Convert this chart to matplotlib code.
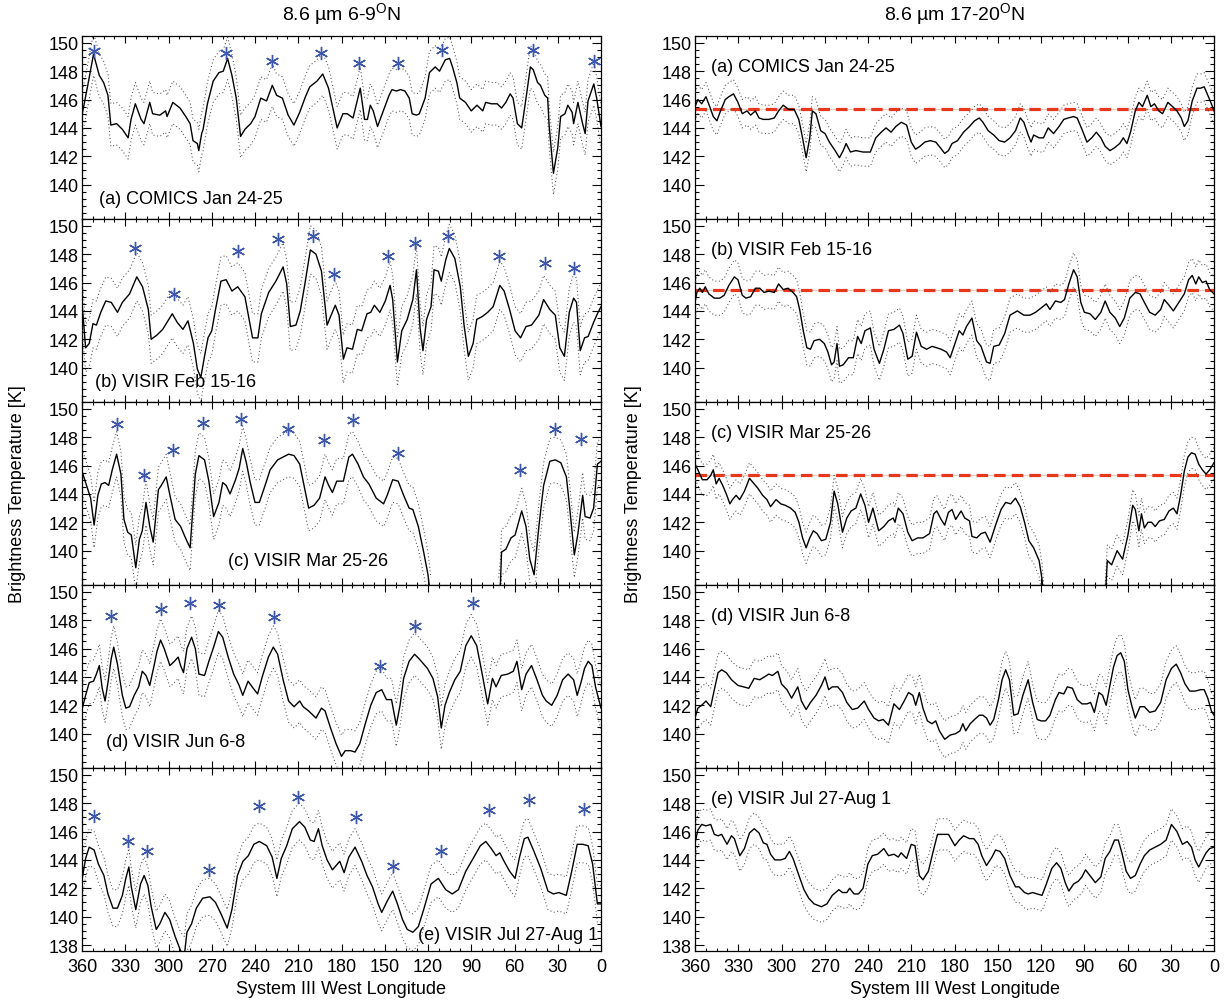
import numpy as np
import matplotlib
matplotlib.use('Agg')
import matplotlib.pyplot as plt
from matplotlib.ticker import MultipleLocator, FixedLocator

plt.rcParams['font.family'] = ['Liberation Sans', 'DejaVu Sans']
plt.rcParams['mathtext.fontset'] = 'custom'
plt.rcParams['mathtext.rm'] = 'Liberation Sans'

nan = np.nan

# ---------------- data: (System III longitude, brightness temperature K) ----------------
left_a = [(360,144.9),(356,147.0),(352,149.2),(348,147.7),(345,147.2),(342,146.3),(340,144.2),(336,144.3),(332,143.9),(328,143.3),(326,144.6),(323,145.7),(319,144.6),(317,144.3),(313,145.8),(311,145.0),(306,144.9),(302,145.2),(301,144.8),(297,145.8),(292,145.4),(288,144.8),(285,144.3),(283,143.1),(280,142.9),(279,142.4),(277,143.6),(276,143.9),(273,145.7),(269,147.3),(265,147.9),(262,148.0),(259,148.9),(256,147.7),(253,146.1),(250,143.4),(247,143.9),(243,144.3),(240,144.8),(236,146.1),(232,145.9),(228,147.0),(225,146.3),(221,146.1),(217,144.9),(213,144.2),(209,145.1),(205,146.2),(202,146.9),(197,147.3),(193,147.8),(189,146.8),(186,145.4),(183,144.0),(179,145.0),(176,145.0),(172,144.7),(167,146.8),(164,144.6),(162,144.6),(160,145.6),(158,145.2),(155,144.1),(151,145.2),(147,146.3),(145,146.7),(142,146.6),(139,146.7),(136,146.6),(133,146.1),(131,145.0),(128,144.9),(126,145.0),(122,146.1),(119,147.9),(115,148.3),(112,148.0),(108,148.8),(105,148.9),(103,148.3),(100,147.2),(98,146.1),(94,145.8),(90,145.2),(86,145.6),(82,145.2),(80,145.8),(76,145.7),(72,145.7),(69,145.4),(66,145.8),(63,146.4),(61,146.1),(58,144.3),(55,144.0),(52,146.1),(49,148.3),(47,148.1),(44,147.2),(42,147.0),(39,146.3),(37,146.1),(36,144.2),(33,140.8),(30,142.6),(28,144.8),(25,145.0),(23,145.6),(20,145.1),(19,144.3),(16,145.8),(13,144.4),(11,143.6),(9,145.9),(5,147.1),(3,146.1),(0,144.1)]

left_b = [(360,144.6),(357.5,141.4),(355,141.7),(352.4,143.1),(350,143.0),(347,143.9),(343.5,144.7),(339.7,144.6),(335.4,143.9),(332,144.6),(327,145.2),(322,146.4),(318,145.7),(314,144.1),(312,142.0),(308,142.3),(304,142.7),(300.4,143.3),(297.4,143.8),(294,143.2),(290,142.7),(286.5,143.3),(282.7,141.7),(280,139.9),(277.6,139.3),(275,140.8),(272.6,142.1),(270,142.6),(267.4,144.1),(263.6,146.1),(260,146.2),(256,145.4),(252,145.7),(247,145.0),(241.7,142.1),(238,142.1),(235.6,143.8),(230.5,145.3),(225.5,146.1),(220.5,147.1),(218,145.9),(215.5,142.9),(211.6,143.0),(208.6,144.0),(205.4,145.9),(201.6,148.3),(197.7,148.0),(193.9,146.8),(190,143.0),(187.6,143.6),(184.3,144.4),(181.7,143.7),(178.7,140.6),(176.2,141.4),(172.4,141.3),(169,142.7),(166,142.6),(162.3,143.8),(159.7,143.9),(157.2,144.4),(153.4,143.9),(149.6,144.7),(146.3,145.8),(144.5,144.8),(141.2,140.4),(138.2,142.6),(134.4,143.4),(130.5,144.8),(128,146.9),(125.5,142.8),(123.5,141.2),(121,143.4),(117.9,144.3),(115.8,146.9),(112.8,146.8),(110.8,146.1),(107.7,147.6),(105.2,148.4),(101.4,147.7),(97.6,145.7),(95,143.0),(92,140.8),(88.7,141.7),(86.2,143.4),(82.4,143.6),(78.6,143.9),(74.8,144.3),(70.2,145.8),(67.2,145.4),(63.4,144.1),(59.6,142.6),(55.8,142.1),(52,142.9),(48.2,143.0),(43.1,143.7),(39.8,144.8),(35.5,144.1),(31.7,143.7),(28.6,141.4),(25.4,140.8),(22,143.9),(19,144.9),(17,144.6),(14.4,141.2),(11.4,142.1),(8.9,142.2),(5.1,143.2),(2.5,143.8),(0,144.3)]

left_c = [(360,145.6),(357.5,144.8),(354,143.7),(351.6,141.8),(349,143.9),(346.6,144.7),(344,144.8),(341.5,144.6),(339,145.7),(336,146.8),(333,145.4),(330.9,142.2),(328.3,141.3),(325.8,141.1),(322.7,138.8),(320.2,140.8),(318.2,141.4),(315.6,143.4),(313,141.7),(310.6,140.6),(307,144.3),(305,144.6),(301.6,145.2),(299,143.9),(295.4,142.2),(291.6,141.7),(287.8,140.8),(285,140.2),(281.4,145.4),(278.9,146.7),(275,146.4),(272,144.9),(268.7,142.4),(265,143.4),(262.4,144.8),(260,144.6),(257.3,144.0),(253.5,145.0),(251,145.8),(248.5,147.2),(246,146.2),(243.3,144.8),(240,143.4),(237,143.4),(233,144.6),(229.5,145.7),(224.3,146.4),(216.7,146.8),(212.9,146.7),(209,146.1),(205.4,144.3),(202.8,143.0),(199,143.2),(195.2,143.7),(191.4,145.2),(188.9,144.6),(186.3,144.1),(183.3,144.9),(178.7,144.9),(174.9,146.6),(172.4,146.8),(168.5,146.1),(164.8,145.2),(161,144.7),(155.9,143.7),(150.8,143.3),(148.3,143.9),(144.5,145.0),(140.7,144.9),(136.9,143.9),(133.1,143.0),(130.5,142.9),(126.7,141.7),(123,139.9),(120,138.3),(118,136.5),(100,nan),(71,136.5),(69.7,137.8),(69,139.9),(66,140.1),(62.4,140.9),(59.6,141.1),(55,142.8),(52,141.7),(49.4,139.4),(46.4,138.3),(43.1,141.7),(39.8,144.6),(35.5,146.3),(31.7,146.4),(27.9,146.2),(24,145.2),(21.5,142.8),(18.5,139.7),(16,141.2),(12.7,143.9),(11,142.4),(7.6,142.3),(5.1,143.0),(2.5,146.1),(0,146.3)]

left_d = [(360,141.7),(357.5,142.7),(355,143.6),(352,143.7),(350,144.2),(348,144.8),(346,143.2),(344,142.3),(342,143.6),(339.7,145.3),(338,146.1),(335.4,144.9),(332,142.7),(329.6,141.8),(327,141.9),(323.8,142.7),(320.7,143.3),(318.2,144.4),(315.6,144.1),(313,143.4),(310,144.8),(308,145.8),(305.5,146.6),(303,146.0),(299,144.8),(295.9,145.1),(293.3,145.4),(291.6,144.8),(289.6,144.3),(287.2,146.0),(284,146.8),(281.4,146.0),(278.9,144.2),(275,144.1),(272,145.1),(268.7,146.1),(265.4,147.2),(262.4,146.8),(258.6,145.4),(254.8,144.2),(251,143.4),(248.5,142.7),(244.8,143.7),(242,143.3),(238.2,142.8),(235,144.0),(230.7,145.4),(227.3,146.1),(224.3,145.6),(220.5,143.8),(216.7,142.3),(212.9,141.9),(209,142.3),(206.6,141.9),(202.8,141.6),(197.7,141.1),(193.9,141.8),(191.4,141.6),(187.6,140.4),(183.8,139.3),(180,138.4),(177.4,138.8),(173.6,138.8),(170.6,138.7),(167.3,139.3),(163.5,140.7),(159.7,142.0),(155.9,142.9),(152.1,143.1),(148.8,142.4),(145.3,142.4),(142,140.6),(139.4,142.0),(136.9,143.9),(133.1,145.1),(129.3,145.6),(125.5,145.2),(120.4,144.6),(116.6,143.9),(113.3,142.6),(110.8,140.4),(108.2,142.0),(105.2,142.9),(101.4,143.8),(97.6,144.4),(93.8,146.2),(90,146.9),(86.2,146.2),(82.4,144.2),(78.6,142.1),(75.3,143.9),(72.8,143.3),(69.2,144.1),(64.6,144.2),(60.8,144.4),(58.3,145.1),(55,143.1),(52,144.2),(48.2,144.8),(44.4,143.8),(40.6,142.7),(38,142.3),(34.2,142.0),(30.4,142.7),(26.6,143.8),(22.8,144.2),(19,143.8),(16.5,142.7),(13.9,143.6),(11.4,144.6),(8.9,145.1),(6.3,144.8),(3.8,143.3),(0,141.8)]

left_e = [(360,142.6),(357.5,144.1),(355,144.9),(351.6,144.7),(348.6,143.7),(344.8,142.9),(342,141.6),(338.5,140.6),(335.4,140.6),(332,141.5),(329.6,142.7),(327.5,143.5),(325.8,142.1),(322.7,140.5),(319.4,142.3),(316.9,142.9),(314.3,142.2),(312,140.7),(308.5,139.1),(306,139.5),(302.5,140.3),(299.2,139.8),(295.4,138.6),(291.6,137.6),(289,137.3),(287.2,138.9),(284,139.5),(280.7,140.6),(276.3,141.3),(271.3,141.4),(267.4,141.0),(263.6,140.2),(259.3,139.2),(256,140.5),(252.2,142.9),(248.4,143.9),(244.6,144.3),(240.8,145.1),(237,145.3),(231.9,145.0),(228.1,144.2),(224.8,142.7),(221.8,144.1),(218,145.0),(214.1,146.2),(209.1,146.7),(205.4,146.3),(201.6,145.4),(199,145.3),(196,146.2),(193.4,145.0),(190,144.0),(186.3,143.3),(181.2,143.9),(178.2,143.1),(174.9,144.2),(170.6,144.9),(166,143.9),(162.3,142.9),(158.5,142.1),(154.6,140.9),(152.1,140.3),(148.3,141.1),(144.5,141.8),(141.2,140.9),(137.7,139.8),(134.4,139.1),(130.5,138.9),(126.7,139.3),(123,140.5),(117.9,142.3),(112.8,142.7),(107.7,141.9),(103.2,141.6),(98.9,141.9),(93.8,143.2),(88.7,144.1),(83.7,145.0),(79.9,145.3),(76.1,144.8),(72.8,144.3),(70.2,144.5),(67.2,143.9),(63.4,143.2),(59.6,142.7),(56.5,144.2),(53.2,145.5),(50.7,145.6),(46.9,144.7),(41.8,143.4),(36.8,141.8),(33,141.6),(29.2,141.7),(24.1,141.5),(20.3,143.2),(16.5,145.1),(12.7,145.1),(8.9,145.0),(5.8,143.7),(2.5,140.9),(0,140.9)]

right_a = [(360,145.5),(358,146.0),(355.4,145.7),(352.4,146.2),(349.8,145.5),(347.3,144.8),(344.8,144.5),(342.3,145.2),(339,146.0),(336.5,146.2),(333.3,146.4),(330.2,145.8),(327.2,145.0),(323.9,145.2),(321.4,144.9),(318.1,145.2),(315.6,144.7),(312.6,144.6),(308.8,144.6),(305,144.7),(302,145.2),(298.8,145.6),(295,145.3),(291.2,145.3),(288,144.6),(285.4,143.3),(282.9,141.9),(280.4,143.3),(278.6,145.2),(276.1,145.0),(272.8,143.8),(269.8,143.6),(266.8,143.0),(262.8,142.4),(259.8,141.9),(257.2,142.4),(255.2,142.9),(252.2,142.3),(248.4,142.4),(243.4,142.3),(238.4,142.3),(234.6,143.3),(230.8,143.7),(227.5,144.0),(224,143.7),(220.7,144.1),(216.9,144.4),(213.2,144.2),(210,143.0),(207,142.5),(204,142.7),(200.6,143.0),(196.8,143.1),(193,143.0),(189.8,142.6),(186.8,142.2),(184.2,142.4),(181.7,142.9),(177.9,143.1),(173.7,143.7),(169.6,144.1),(166.1,144.5),(162.8,144.7),(160.3,144.4),(156.6,143.8),(152.8,143.5),(149,143.1),(145.2,143.0),(141.5,143.3),(137.7,143.8),(134.4,144.7),(131.9,144.4),(128.9,143.5),(126.9,143.0),(125.1,143.5),(121.3,143.3),(118.3,143.3),(115,144.0),(111.3,143.6),(107.5,144.1),(104.2,144.6),(101.2,144.7),(97.4,144.8),(94.9,144.7),(91.6,143.9),(88.1,143.0),(84.8,143.3),(81.6,143.7),(78.5,143.3),(75.5,142.7),(72.2,142.4),(69,142.6),(65.4,142.9),(62.9,143.3),(60.4,142.9),(57.9,143.7),(54.6,145.2),(52.1,145.8),(49.6,145.5),(46.3,146.3),(43.8,145.5),(41.3,145.7),(38.3,145.2),(35.7,145.0),(32,145.8),(28.7,145.5),(25.7,145.2),(22.7,144.7),(20.6,144.1),(18.1,144.5),(15.1,145.9),(11.8,146.8),(9.3,146.8),(6.8,146.9),(4.3,146.3),(1.8,145.7),(0,145.2)]

right_b = [(360,144.6),(358.7,145.3),(356.7,145.6),(354.9,145.3),(352.9,145.7),(350.4,145.2),(346.6,144.9),(342.8,144.9),(339.8,145.1),(336.5,145.8),(332.7,146.4),(330.2,146.2),(327.2,145.1),(324.7,144.9),(321.4,145.0),(318.1,145.6),(315.1,145.6),(312.1,145.3),(308.8,145.4),(305,145.3),(302,145.9),(298.8,145.5),(295.5,145.6),(292,145.3),(289.5,145.0),(287.4,144.1),(284.9,142.6),(282.4,141.4),(279.9,141.3),(277.4,141.9),(273.6,142.0),(270.3,141.7),(267.8,141.1),(265.3,140.2),(263.5,140.4),(261.5,141.7),(259.8,140.1),(257.2,140.2),(253.5,140.7),(250.2,140.7),(247.2,142.2),(244.7,141.7),(242.1,142.6),(238.4,142.8),(235.8,141.3),(232.1,140.3),(229,141.3),(225.8,142.6),(222,142.7),(218.2,143.0),(215.7,142.4),(212.4,140.6),(209.4,140.8),(206.4,142.5),(203.1,141.5),(199.3,141.3),(195.6,141.5),(192.3,141.4),(189.3,141.3),(185.5,141.1),(183,140.7),(179.7,141.7),(176.7,142.6),(174.2,142.3),(171.7,142.9),(167.9,143.5),(164.6,141.9),(161.6,141.5),(157.8,140.4),(155.3,140.3),(152.8,141.5),(149,141.6),(145.2,142.4),(141.5,143.7),(136.4,144.0),(131.9,143.7),(127.6,143.7),(123.8,143.9),(120,144.2),(116.3,144.5),(113.8,144.1),(110,144.7),(106.2,144.6),(103.7,144.8),(100.7,145.9),(97.4,146.9),(94.9,146.4),(92.4,144.6),(89.9,143.9),(86.1,143.8),(82.3,143.4),(78.5,143.9),(75.5,144.7),(72.2,143.9),(68.5,143.5),(65.4,142.9),(62.2,143.5),(58.4,144.9),(54.6,145.3),(51.3,145.2),(48.3,144.6),(44.6,143.9),(40.8,143.7),(37,144.1),(34.5,144.8),(31.2,144.4),(28.2,144.0),(24.4,144.6),(20.6,145.2),(17.6,146.2),(15.1,146.5),(12.6,145.9),(10.6,146.4),(8.1,146.0),(5.5,146.1),(3,145.5),(0,145.2)]

right_c = [(360,146.1),(358,145.7),(354.9,145.0),(351.6,145.0),(349.1,145.3),(347.3,145.7),(345.3,144.7),(343.3,145.1),(340.8,144.6),(338.3,144.0),(335.8,143.3),(334,143.6),(331.5,143.9),(329,143.6),(325.7,144.2),(322.2,145.1),(318.9,144.7),(316.4,144.4),(313.1,143.9),(310.1,143.6),(307.6,143.1),(303.8,143.6),(300.5,143.3),(297.5,143.2),(293.7,143.0),(290.5,142.7),(287.9,142.0),(285.4,140.9),(282.9,140.2),(280.4,140.9),(277.9,141.4),(275.3,141.2),(272.3,140.7),(269.3,140.8),(266,142.0),(263.5,144.2),(261,143.3),(257.7,141.3),(254.7,142.3),(251.7,142.8),(248.4,143.0),(245.1,144.0),(242.1,143.2),(239.6,142.0),(236.6,143.0),(232.6,141.4),(229,141.7),(225.8,142.1),(222.5,142.3),(221.3,142.0),(219,143.0),(215.7,142.6),(212.4,141.3),(209.4,140.7),(205.6,140.9),(201.9,140.9),(197.3,141.2),(194.3,142.6),(192.3,142.8),(189.3,142.2),(186.8,141.8),(184.2,142.7),(181.7,142.9),(179.2,142.2),(175.4,142.8),(172.9,142.3),(169.6,142.1),(167.9,141.0),(164.6,140.9),(161.6,141.2),(158.6,141.3),(155.3,140.6),(151.5,141.8),(147.7,142.9),(144.5,143.4),(141,143.3),(137.7,143.7),(134.4,143.1),(131.4,142.0),(128.4,140.7),(125.1,140.2),(121.3,139.3),(119.3,138.0),(118,136.5),(100,nan),(75.5,136.5),(74,139.3),(71,139.0),(67.2,140.0),(63.4,139.4),(59.7,141.1),(56.4,143.2),(54.6,142.9),(52.1,141.4),(50.3,142.6),(48.3,141.6),(45.8,142.0),(43.3,142.0),(40.8,141.7),(37.8,142.1),(34.5,142.2),(31.2,142.8),(28.2,143.0),(25.7,142.6),(23.2,143.9),(20.6,145.6),(18.1,146.6),(15.6,146.9),(13.1,146.8),(10.6,146.1),(8.1,145.7),(5.5,145.4),(3,145.7),(0,146.2)]

right_d = [(360,141.1),(358,141.8),(355.4,142.0),(352.4,142.3),(349.1,141.9),(346.6,143.1),(344,144.3),(341.5,144.5),(338.3,144.3),(334.7,143.8),(330.2,143.4),(326.4,143.3),(322.7,143.2),(318.9,143.9),(315.1,143.8),(311.9,144.0),(308.8,144.2),(306.3,144.1),(302.5,144.4),(300,143.5),(296.2,143.1),(293,142.5),(288.7,143.3),(286.2,142.3),(282.9,141.7),(279.9,142.2),(276.1,142.7),(272.3,143.4),(269.8,144.0),(267.3,143.1),(264.8,143.3),(261,143.3),(257.7,142.9),(254.7,142.2),(250.9,141.7),(247.2,141.8),(242.6,142.3),(239.6,141.7),(235.8,141.1),(232.6,140.9),(229.5,141.0),(225.8,140.6),(222,142.1),(218.2,141.7),(214.9,142.3),(211.9,142.9),(208.9,142.7),(206.9,142.0),(204.4,142.9),(201.9,141.8),(198.8,140.9),(195.6,140.7),(193,140.9),(190.5,140.2),(186.8,139.6),(183,139.9),(179.2,140.0),(176.2,140.2),(174.2,140.7),(172.2,140.2),(169.1,140.7),(166.1,141.0),(162.8,141.3),(160.3,141.3),(157.8,141.1),(155.3,140.6),(152.8,141.0),(149.5,142.4),(147,143.8),(144.5,144.5),(141.9,143.8),(138.9,141.3),(135.9,141.4),(132.6,142.7),(128.9,143.8),(125.8,142.2),(122.6,141.0),(120,140.9),(116.8,140.9),(113.8,141.3),(110,142.4),(107.5,142.9),(104.2,142.8),(101.7,143.3),(98.2,143.2),(94.9,142.4),(91.6,142.1),(88.1,142.1),(85.6,142.2),(83,141.5),(79.8,142.9),(77.3,142.7),(74.8,142.0),(72.2,143.4),(69.7,144.7),(67.2,145.5),(64.7,145.7),(62.2,145.1),(59.7,143.1),(57.1,142.0),(54.6,141.1),(51.3,141.9),(48.3,141.9),(44.6,141.5),(40.8,141.6),(37,142.2),(33.2,143.8),(29.5,144.6),(26.2,144.9),(23.2,144.3),(20.1,143.5),(16.8,143.0),(13.1,143.0),(9.3,143.1),(6.8,143.1),(4.3,142.5),(1.8,141.6),(0,141.3)]

right_e = [(360,145.2),(358,146.1),(355.4,146.5),(352.4,146.4),(349.1,146.5),(346.6,145.8),(344,145.7),(341.5,145.8),(337.8,145.1),(334.7,145.7),(332.7,145.5),(328.9,144.3),(325.7,144.8),(322.2,145.9),(318.9,146.2),(315.6,145.9),(312.6,145.2),(310.1,145.1),(307.6,144.4),(304.6,144.0),(300.5,144.0),(297.5,144.1),(294.5,144.6),(292,144.1),(287.9,142.9),(284.4,141.9),(281.1,141.3),(277.4,140.9),(272.3,140.7),(268.5,140.9),(264.8,141.5),(260.2,141.9),(257.7,141.7),(254.7,141.7),(252.7,142.0),(249.7,141.6),(246.6,141.6),(243.4,142.0),(240.1,143.7),(237,144.3),(233.3,144.4),(229,144.8),(225.8,144.3),(222,144.4),(219,144.2),(217,144.5),(213.2,144.1),(210,145.1),(207.4,145.0),(204.4,142.9),(201.9,142.6),(198.1,143.2),(194.8,144.6),(191.8,145.8),(188,145.8),(184.2,145.8),(179.7,145.0),(176.7,145.4),(173.7,145.7),(169.6,145.5),(166.6,145.5),(163.6,145.1),(161.1,144.3),(157.8,143.6),(154,144.2),(151.5,144.7),(148.5,144.6),(145.2,144.1),(141.5,142.9),(137.7,142.1),(135.2,142.1),(131.4,141.7),(128.9,141.6),(125.8,141.7),(122.6,141.6),(119.3,141.5),(116.3,142.3),(112.5,143.4),(109.2,143.8),(106.2,143.4),(103.2,142.4),(100.7,141.8),(97.4,142.3),(94.1,142.5),(91.6,142.8),(89.1,143.3),(86.1,142.9),(82.3,142.4),(78.5,142.8),(75.5,144.1),(72.2,144.6),(69,145.4),(66.4,145.4),(63.9,144.5),(60.9,143.2),(57.9,142.7),(54.6,142.9),(51.3,143.7),(48.3,144.3),(44.6,144.7),(40.8,144.9),(37,145.1),(33.2,145.4),(29.5,146.5),(25.7,146.0),(21.9,145.1),(18.6,145.3),(15.6,144.9),(13.1,144.0),(10.6,143.5),(8.1,144.0),(5.5,144.5),(3,144.8),(0,144.9)]

# peaks marked with asterisks (left column only)
stars_a = [(352,149.4),(260,149.3),(228,148.7),(194,149.3),(168,148.6),(141,148.6),(110,149.5),(47,149.5),(5,148.7)]
stars_b = [(323,148.4),(296,145.2),(252,148.2),(224,149.1),(200,149.3),(185,146.6),(148,147.9),(129,148.8),(106,149.3),(71,147.9),(39,147.4),(19,147.0)]
stars_c = [(336,148.9),(317,145.3),(297,147.1),(276,149.0),(250,149.3),(217,148.6),(192,147.8),(172,149.2),(141,146.9),(56,145.7),(32,148.6),(14,147.9)]
stars_d = [(340,148.3),(305,148.8),(285,149.2),(265,149.1),(227,148.2),(153,144.8),(129,147.6),(89,149.2)]
stars_e = [(352,147.1),(328,145.3),(315,144.6),(272,143.3),(237,147.8),(210,148.4),(170,147.0),(144,143.6),(111,144.6),(78,147.5),(50,148.2),(12,147.6)]

# half-width of the dotted uncertainty envelope (K)
sigma_left = [1.5, 1.7, 1.6, 1.5, 1.3]
sigma_right = [1.0, 1.2, 1.1, 1.3, 1.1]

# reference level (red dashed) in right panels a-c
ref_right = [145.3, 145.45, 145.3, None, None]

labels = ['(a) COMICS Jan 24-25', '(b) VISIR Feb 15-16', '(c) VISIR Mar 25-26',
          '(d) VISIR Jun 6-8', '(e) VISIR Jul 27-Aug 1']
titles = ['8.6 µm 6-9$^{\\mathrm{O}}$N', '8.6 µm 17-20$^{\\mathrm{O}}$N']
xticks = [360, 330, 300, 270, 240, 210, 180, 150, 120, 90, 60, 30, 0]

left_series = [left_a, left_b, left_c, left_d, left_e]
right_series = [right_a, right_b, right_c, right_d, right_e]
star_series = [stars_a, stars_b, stars_c, stars_d, stars_e]

# label placement (axes fraction) for the left column
left_label_pos = [(0.032, 0.109, 'left'), (0.025, 0.109, 'left'), (0.282, 0.134, 'left'),
                  (0.046, 0.143, 'left'), (0.995, 0.088, 'right')]

# ---------------- figure ----------------
W, H = 1229, 1004
fig = plt.figure(figsize=(W / 100, H / 100), dpi=100)
col_left = [82 / W, 695 / W]
col_w = 519 / W
top = 1 - 36.7 / H
bot = 1 - 951.7 / H
ph = (top - bot) / 5
YLIM = (137.6, 150.5)
FS = 13

for col in range(2):
    for i in range(5):
        ax = fig.add_axes([col_left[col], top - (i + 1) * ph, col_w, ph])
        data = left_series[i] if col == 0 else right_series[i]
        lon = np.array([p[0] for p in data], float)
        tb = np.array([p[1] for p in data], float)
        sig = sigma_left[i] if col == 0 else sigma_right[i]
        if col == 1 and ref_right[i] is not None:
            ax.axhline(ref_right[i], color='#f3c8c0', lw=0.8, zorder=1)
            ax.axhline(ref_right[i], color='#e8381c', lw=2.3, dashes=(3.6, 1.9), zorder=2)
        ax.plot(lon, tb + sig, color='#505050', lw=0.75, ls=(0, (1, 2.4)), zorder=3)
        ax.plot(lon, tb - sig, color='#505050', lw=0.75, ls=(0, (1, 2.4)), zorder=3)
        ax.plot(lon, tb, color='k', lw=1.0, zorder=4)
        if col == 0:
            st = star_series[i]
            ax.plot([s[0] for s in st], [s[1] for s in st], ls='none', marker=(6, 2, 0),
                    ms=9.5, mew=1.0, color='#3d58aa', zorder=5)
        ax.set_xlim(360, 0)
        ax.set_ylim(*YLIM)
        ax.xaxis.set_major_locator(FixedLocator(xticks))
        ax.xaxis.set_minor_locator(MultipleLocator(7.5))
        if i == 4:
            ax.yaxis.set_major_locator(FixedLocator([138, 140, 142, 144, 146, 148, 150]))
        else:
            ax.yaxis.set_major_locator(FixedLocator([140, 142, 144, 146, 148, 150]))
        ax.yaxis.set_minor_locator(MultipleLocator(0.5))
        ax.tick_params(which='both', direction='in', top=True, right=True, labelsize=FS, width=0.8)
        ax.tick_params(axis='x', which='major', length=5, pad=5)
        ax.tick_params(axis='x', which='minor', length=2.5)
        ax.tick_params(axis='y', which='major', length=6.5, pad=2.5)
        ax.tick_params(axis='y', which='minor', length=3.2)
        if i < 4:
            ax.tick_params(axis='x', labelbottom=False)
        for sp in ax.spines.values():
            sp.set_linewidth(0.9)
        if col == 0:
            x, y, ha = left_label_pos[i]
            ax.text(x, y, labels[i], transform=ax.transAxes, ha=ha, va='center', fontsize=FS)
        else:
            ax.text(0.030, 0.83, labels[i], transform=ax.transAxes, ha='left', va='center', fontsize=FS)

    cx = col_left[col] + col_w / 2
    fig.text(cx, 1 - 15 / H, titles[col], ha='center', va='center', fontsize=FS + 1)
    fig.text(cx, 1 - 990 / H, 'System III West Longitude', ha='center', va='center', fontsize=FS)

fig.text(18 / W, 1 - 494 / H, 'Brightness Temperature [K]', rotation=90, ha='center', va='center', fontsize=FS)
fig.text(633 / W, 1 - 494 / H, 'Brightness Temperature [K]', rotation=90, ha='center', va='center', fontsize=FS)

fig.savefig('out.png', dpi=100)
